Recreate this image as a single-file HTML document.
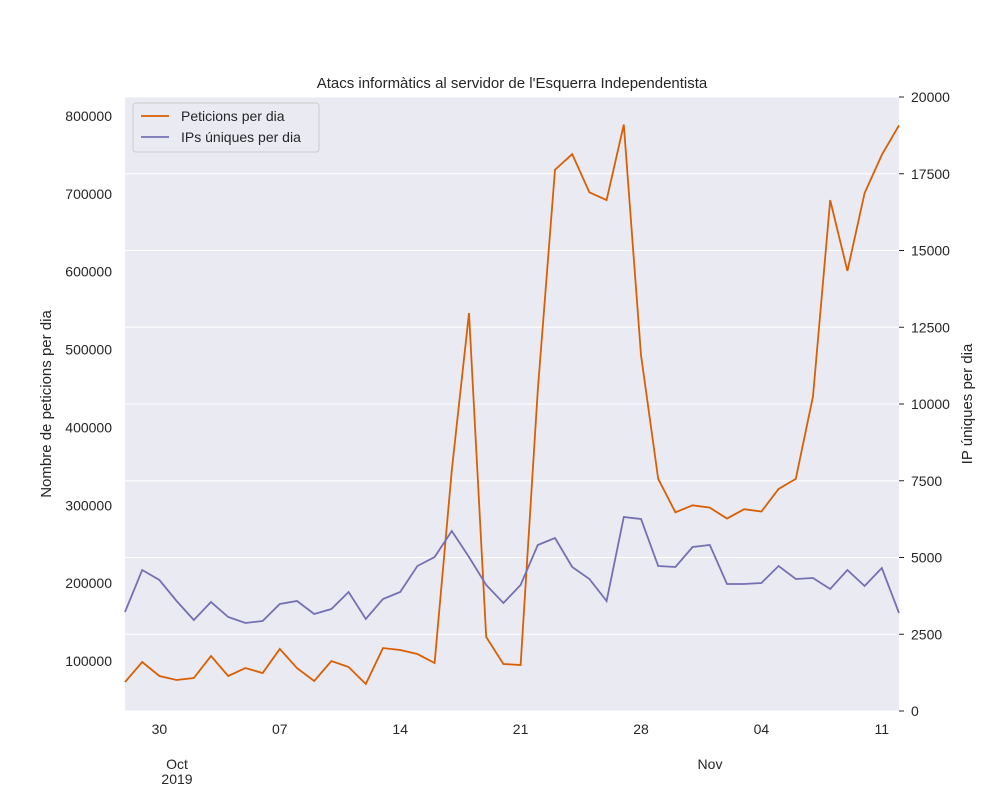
<!DOCTYPE html>
<html><head><meta charset="utf-8"><style>
body{margin:0;background:#fff;}
svg text{font-family:"Liberation Sans","DejaVu Sans",sans-serif;fill:#262626;}
</style></head><body>
<svg id="chart" width="1000" height="800" xmlns="http://www.w3.org/2000/svg"></svg>
<script>
const startDate = [2019, 8, 28];
const peticions = [73000,98700,80800,75700,78200,106400,80800,91000,84600,115500,91000,74400,100000,92300,70500,116700,114200,109000,97500,345000,546900,130900,96200,94900,448000,731000,751000,702000,692000,789000,493000,334000,291000,300000,297000,283000,295000,292000,321000,334000,440000,692000,601000,701000,750000,788000];
const ips = [3225,4593,4267,3583,2964,3550,3062,2866,2932,3485,3583,3160,3322,3876,2997,3648,3876,4723,5016,5863,5016,4104,3518,4104,5407,5635,4691,4300,3583,6319,6254,4723,4691,5342,5407,4137,4137,4169,4723,4300,4332,3974,4593,4072,4658,3192];
const leftTicks = [100000,200000,300000,400000,500000,600000,700000,800000];
const rightTicks = [0,2500,5000,7500,10000,12500,15000,17500,20000];
const dayTicks = [2,9,16,23,30,37,44];
const dayLabels = ["30","07","14","21","28","04","11"];

const NS="http://www.w3.org/2000/svg";
const svg=document.getElementById('chart');
const L=125,R=899,T=97,B=711;
const n=peticions.length;
const x=i=>L+(R-L)*i/(n-1);
const yL=v=>738.9-v*(77.86/100000);
const yR=v=>B-v*(B-T)/20000;
function el(tag,attrs,parent){const e=document.createElementNS(NS,tag);for(const k in attrs)e.setAttribute(k,attrs[k]);(parent||svg).appendChild(e);return e;}
function txt(s,attrs){const e=el('text',attrs);e.textContent=s;return e;}

const bg=el('rect',{x:L,y:T,width:R-L,height:B-T,fill:'#eaeaf2'});


leftTicks.forEach(v=>{
  const t=txt(String(v),{x:112,y:yL(v)+5,'text-anchor':'end','font-size':14});
  
  
});
rightTicks.forEach(v=>{
  const g=el('line',{x1:L,x2:R,y1:yR(v),y2:yR(v),stroke:'#fff','stroke-width':1});
  
  
  el('line',{x1:R,x2:R+5,y1:yR(v),y2:yR(v),stroke:'#262626','stroke-width':1});
  const t=txt(String(v),{x:911,y:yR(v)+5,'text-anchor':'start','font-size':14});
  
  
});
dayTicks.forEach((d,i)=>{
  const t=txt(dayLabels[i],{x:x(d),y:734,'text-anchor':'middle','font-size':14});
  
  
});
const m1=txt('Oct',{x:177,y:769,'text-anchor':'middle','font-size':14});


const m2=txt('2019',{x:177,y:784,'text-anchor':'middle','font-size':14});


const m3=txt('Nov',{x:710,y:769,'text-anchor':'middle','font-size':14});



const p1=el('polyline',{points:peticions.map((v,i)=>x(i)+','+yL(v)).join(' '),fill:'none',stroke:'#d95f02','stroke-width':1.8});


const p2=el('polyline',{points:ips.map((v,i)=>x(i)+','+yR(v)).join(' '),fill:'none',stroke:'#7570b3','stroke-width':1.8});



const title=txt("Atacs informàtics al servidor de l'Esquerra Independentista",{x:512,y:88,'text-anchor':'middle','font-size':15});


const yl=txt('Nombre de peticions per dia',{x:0,y:0,'text-anchor':'middle','font-size':15,transform:'translate(51,404) rotate(-90)'});


const yr=txt('IP úniques per dia',{x:0,y:0,'text-anchor':'middle','font-size':15,transform:'translate(972,404) rotate(-90)'});



const lg=el('rect',{x:133,y:103,width:186,height:49,rx:3,fill:'#eaeaf2',stroke:'#cccccc','fill-opacity':0.8});


el('line',{x1:141,x2:169,y1:116,y2:116,stroke:'#d95f02','stroke-width':1.8});
const l1=txt('Peticions per dia',{x:181,y:121,'font-size':14});


el('line',{x1:141,x2:169,y1:137,y2:137,stroke:'#7570b3','stroke-width':1.8});
const l2=txt('IPs úniques per dia',{x:181,y:142,'font-size':14});


</script>
</body></html>
